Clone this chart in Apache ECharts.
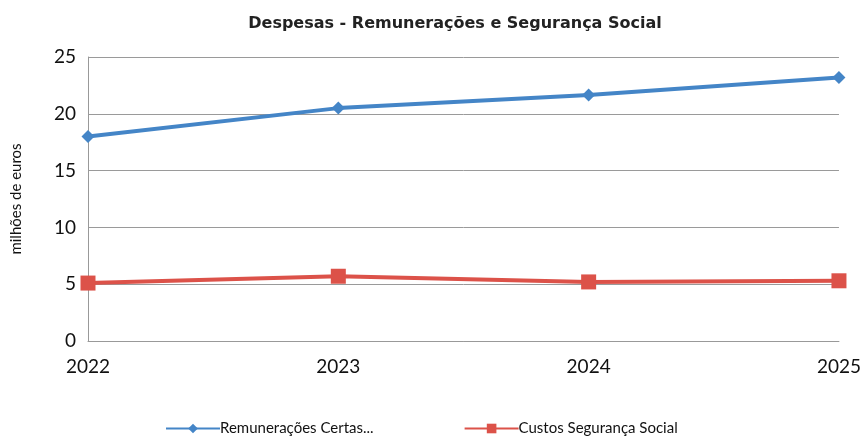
<!DOCTYPE html>
<html><head><meta charset="utf-8">
<script src="https://cdn.jsdelivr.net/npm/echarts@6/dist/echarts.min.js"></script>
<style>html,body{margin:0;padding:0;background:#fff}#c{width:864px;height:437px}</style>
</head><body><div id="c"></div>
<script>
const title = 'Despesas - Remunerações e Segurança Social';
const categories = ['2022', '2023', '2024', '2025'];
const remuneracoes = [18.0, 20.5, 21.65, 23.2];
const seguranca = [5.1, 5.7, 5.2, 5.3];
const seriesNames = ['Remunerações Certas...', 'Custos Segurança Social'];
const yTicks = {min: 0, max: 25, interval: 5};
const yName = 'milhões de euros';

const chart = echarts.init(document.getElementById('c'));
chart.setOption({
  animation: false,
  title: {text: title, left: 450, top: 11, textAlign: 'center',
    textStyle: {fontFamily: 'DejaVu Sans', fontWeight: 'bold', fontSize: 16, color: '#222'}},
  grid: {left: 88, right: 24, top: 57, bottom: 96},
  legend: {top: 416, left: 160, itemGap: 90, itemWidth: 54, itemHeight: 12,
    textStyle: {fontFamily: 'Lato', fontSize: 15, color: '#111', padding: [0,0,0,-5]},
    data: seriesNames},
  xAxis: {type: 'category', data: categories, boundaryGap: false,
    axisLine: {lineStyle: {color: '#999', width: 1}}, axisTick: {show: false},
    axisLabel: {fontFamily: 'Lato', fontSize: 19, color: '#111', margin: 16}},
  yAxis: {type: 'value', min: yTicks.min, max: yTicks.max, interval: yTicks.interval,
    name: yName, nameLocation: 'middle', nameGap: 64, nameRotate: 90,
    nameTextStyle: {fontFamily: 'Lato', fontSize: 15, color: '#111'},
    axisLine: {show: true, lineStyle: {color: '#999', width: 1}}, axisTick: {show: false},
    axisLabel: {fontFamily: 'Lato', fontSize: 19, color: '#111', margin: 12},
    splitLine: {lineStyle: {color: '#9a9a9a', width: 1}}},
  series: [
    {name: seriesNames[0], type: 'line', data: remuneracoes, symbol: 'diamond', symbolSize: 13,
      lineStyle: {color: '#4485c7', width: 4}, itemStyle: {color: '#4485c7'}},
    {name: seriesNames[1], type: 'line', data: seguranca, symbol: 'rect', symbolSize: 15,
      lineStyle: {color: '#dc5249', width: 4}, itemStyle: {color: '#dc5249'}}
  ]
});
</script></body></html>
